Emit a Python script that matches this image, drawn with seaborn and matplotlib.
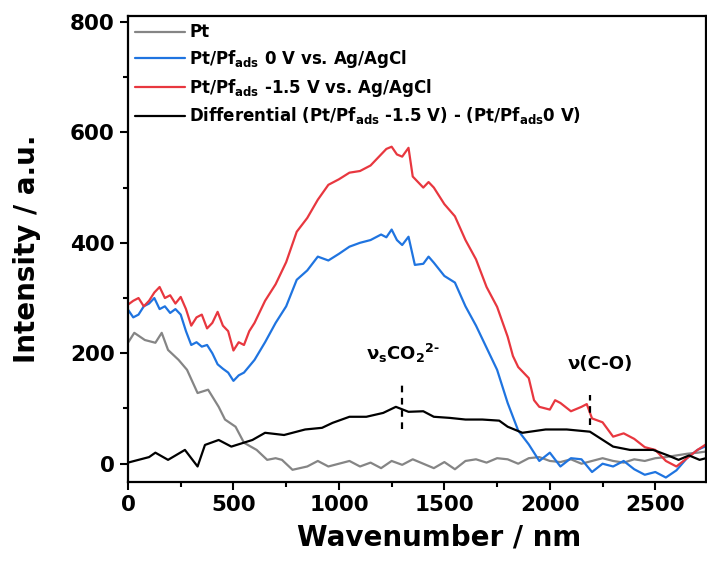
import numpy as np
import pandas as pd
import matplotlib
matplotlib.use("Agg")
import matplotlib.pyplot as plt
import seaborn as sns
from matplotlib.ticker import MultipleLocator

# ---- data ----
red_x = [0, 25, 50, 75, 100, 125, 150, 175, 200, 225, 250, 275, 300, 325, 350, 375, 400, 425, 450, 475,
         500, 525, 550, 575, 600, 625, 650, 700, 750, 800, 850, 900, 950,
         1000, 1050, 1100, 1150, 1200, 1225, 1250, 1275, 1300, 1330, 1350, 1400, 1425, 1450, 1500, 1550, 1600,
         1650, 1700, 1750, 1800, 1825, 1850, 1875, 1900, 1925, 1950, 2000, 2025, 2050, 2100, 2150, 2175, 2200,
         2250, 2300, 2350, 2400, 2450, 2500, 2550, 2600, 2650, 2700, 2740]
red_y = [288, 295, 300, 285, 295, 310, 320, 300, 305, 290, 302, 280, 250, 265, 270, 245, 255, 275, 250, 240,
         205, 220, 215, 240, 255, 275, 295, 325, 365, 420, 445, 478, 505,
         515, 527, 530, 540, 560, 570, 574, 560, 556, 572, 520, 500, 510, 500, 470, 448, 405,
         370, 320, 284, 230, 195, 175, 165, 155, 115, 103, 98, 115, 110, 95, 103, 108, 82,
         75, 49, 55, 45, 30, 25, 5, -5, 10, 25, 35]

blue_x = [0, 25, 50, 75, 100, 125, 150, 175, 200, 225, 250, 275, 300, 325, 350, 375, 400, 425, 450, 475,
          500, 525, 550, 600, 650, 700, 750, 800, 850, 900, 950,
          1000, 1050, 1100, 1150, 1200, 1225, 1250, 1275, 1300, 1330, 1360, 1400, 1425, 1450, 1500, 1550, 1600,
          1650, 1700, 1750, 1800, 1850, 1900, 1950, 2000, 2050, 2100, 2150, 2200, 2250, 2300, 2350, 2400,
          2450, 2500, 2550, 2600, 2650, 2700, 2740]
blue_y = [279, 265, 270, 285, 290, 300, 280, 285, 273, 280, 270, 240, 215, 220, 212, 215, 200, 180, 172, 165,
          150, 160, 165, 188, 220, 255, 285, 333, 350, 375, 368,
          380, 393, 400, 405, 415, 410, 424, 405, 396, 411, 360, 362, 375, 364, 340, 328, 285,
          250, 210, 170, 110, 60, 35, 5, 20, -5, 10, 8, -15, 0, -5, 5, -10,
          -20, -15, -25, -12, 10, 25, 32]

gray_x = [0, 30, 80, 130, 160, 190, 240, 280, 330, 380, 430, 460, 510, 550, 610, 660, 700, 730, 780, 850,
          900, 950, 1000, 1050, 1100, 1150, 1200, 1250, 1300, 1350, 1400, 1450, 1500, 1550, 1600, 1650,
          1700, 1750, 1800, 1850, 1900, 1950, 2000, 2050, 2100, 2150, 2200, 2250, 2300, 2350, 2400, 2450,
          2500, 2550, 2600, 2650, 2700, 2740]
gray_y = [219, 237, 224, 219, 237, 206, 188, 170, 128, 134, 103, 80, 67, 38, 25, 7, 10, 7, -11, -5,
          5, -5, 0, 5, -5, 2, -8, 5, -2, 8, 0, -8, 3, -10, 5, 8,
          2, 10, 8, 0, 10, 12, 5, 3, 8, 0, 5, 10, 5, 2, 8, 5,
          10, 12, 15, 18, 20, 22]

black_x = [0, 50, 100, 130, 190, 270, 330, 365, 430, 490, 590, 650, 740, 840, 920, 970, 1050, 1130, 1210,
           1270, 1330, 1400, 1450, 1525, 1600, 1680, 1760, 1800, 1870, 1980, 2080, 2190, 2300, 2380, 2490,
           2560, 2610, 2660, 2710, 2740]
black_y = [2, 7, 12, 20, 7, 25, -5, 34, 43, 31, 43, 56, 52, 62, 65, 74, 85, 85, 92,
           103, 94, 95, 85, 83, 80, 80, 78, 67, 56, 62, 62, 58, 31, 25, 25,
           15, 7, 15, 7, 10]

labels = ["Pt",
          r"Pt/Pf$_{\mathrm{ads}}$ 0 V vs. Ag/AgCl",
          r"Pt/Pf$_{\mathrm{ads}}$ -1.5 V vs. Ag/AgCl",
          r"Differential (Pt/Pf$_{\mathrm{ads}}$ -1.5 V) - (Pt/Pf$_{\mathrm{ads}}$0 V)"]
colors = ["#858585", "#1f74e0", "#e8373f", "#000000"]

sns.set_theme(style="ticks")
plt.rcParams["font.family"] = ["DejaVu Sans"]
plt.rcParams["font.weight"] = "bold"
plt.rcParams["mathtext.fontset"] = "custom"
plt.rcParams["mathtext.rm"] = "DejaVu Sans:bold"
plt.rcParams["mathtext.bf"] = "DejaVu Sans:bold"
plt.rcParams["mathtext.it"] = "DejaVu Sans:bold:italic"
for k in ["text.color", "axes.labelcolor", "xtick.color", "ytick.color", "axes.edgecolor"]:
    plt.rcParams[k] = "black"

fig = plt.figure(figsize=(7.07, 5.65), dpi=100)
ax = fig.add_axes([0.181, 0.147, 0.8175, 0.825])

series = [(gray_x, gray_y), (blue_x, blue_y), (red_x, red_y), (black_x, black_y)]
for (xs, ys), lab, col in zip(series, labels, colors):
    df = pd.DataFrame({"x": xs, "y": ys})
    sns.lineplot(data=df, x="x", y="y", ax=ax, color=col, lw=1.6, label=lab,
                 sort=False, estimator=None)

ax.set_xlim(0, 2740)
ax.set_ylim(-33, 811)
ax.xaxis.set_major_locator(MultipleLocator(500))
ax.xaxis.set_minor_locator(MultipleLocator(250))
ax.yaxis.set_major_locator(MultipleLocator(200))
ax.yaxis.set_minor_locator(MultipleLocator(100))
ax.tick_params(which="major", direction="out", length=6, width=1.5, labelsize=15.5, colors="black")
ax.tick_params(which="minor", direction="out", length=3.5, width=1.5, colors="black")
for lbl in ax.get_xticklabels() + ax.get_yticklabels():
    lbl.set_fontweight("bold")
for s in ax.spines.values():
    s.set_linewidth(1.6)
    s.set_color("black")

ax.set_xlabel("Wavenumber / nm", fontsize=20, fontweight="bold")
ax.set_ylabel("Intensity / a.u.", fontsize=20, fontweight="bold")
ax.xaxis.set_label_coords(0.539, -0.09)
ax.yaxis.set_label_coords(-0.151, 0.5)

# annotations
ax.vlines(1300, 62, 150, colors="black", linestyles=(0, (3, 2.5)), lw=1.6)
ax.vlines(2188, 70, 125, colors="black", linestyles=(0, (3, 2.5)), lw=1.6)
ax.text(1303, 200, r"ν$_{\mathrm{s}}$CO$_{2}$$^{2\text{-}}$", ha="center", va="center",
        fontsize=13, fontweight="bold")
ax.text(2240, 180, "ν(C-O)", ha="center", va="center", fontsize=13, fontweight="bold")

leg = ax.legend(loc="upper left", frameon=False, fontsize=12, handlelength=3.0,
                handletextpad=0.25, labelspacing=0.4, borderaxespad=0.2,
                bbox_to_anchor=(-0.005, 1.005))
for t in leg.get_texts():
    t.set_fontweight("bold")

fig.savefig("out.png", dpi=100)
